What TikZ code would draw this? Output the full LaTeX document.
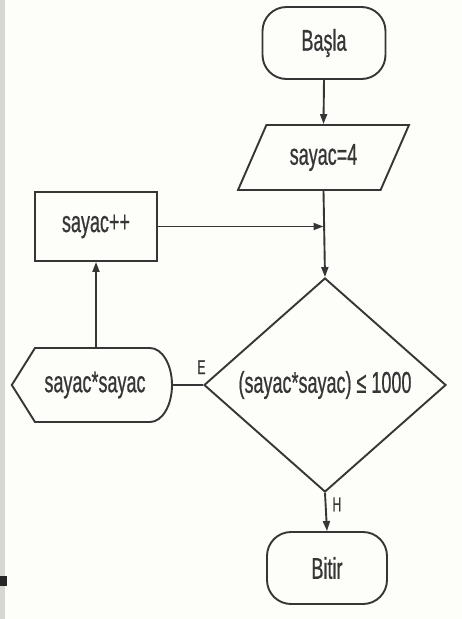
\documentclass[tikz,border=0pt]{standalone}
\usepackage{fontspec}
\setmainfont[FakeStretch=0.6,FakeBold=0.6]{Liberation Sans}
\usetikzlibrary{shapes.geometric,arrows.meta}

\definecolor{ink}{HTML}{363636}
\definecolor{paper}{HTML}{FDFDFA}
\definecolor{edge}{HTML}{D6D6D2}

\tikzset{
  x=1pt, y=1pt,
  every node/.style={font=\fontsize{30}{33}\selectfont, text=ink, inner sep=0pt},
  outline/.style={draw=ink, line width=1.9pt},
  terminal/.style={outline, rectangle, rounded corners=24pt, minimum width=123pt, minimum height=72pt},
  iobox/.style={outline, trapezium, trapezium left angle=58, trapezium right angle=122,
                trapezium stretches=true, minimum width=171pt, minimum height=65pt},
  process/.style={outline, rectangle, minimum width=122pt, minimum height=69pt},
  decision/.style={outline, diamond, minimum width=242pt, minimum height=214pt},
  displaybox/.style={rectangle, minimum width=160pt, minimum height=74pt},
  flow/.style={draw=ink, line width=1.9pt, -{Triangle[length=10pt,width=7pt]}},
  link/.style={draw=ink, line width=1.9pt},
  tag/.style={font=\fontsize{20}{22}\selectfont}
}

\begin{document}
\begin{tikzpicture}
  % page and scanned left margin
  \fill[paper] (0,0) rectangle (462,-619);
  \useasboundingbox (0,0) rectangle (462,-619);
  \fill[edge] (0,0) rectangle (5,-619);
  \fill[black!85] (0,-576) rectangle (7,-586);

  % flowchart nodes
  \node[terminal] (start) at (324,-43) {Başla};
  \node[iobox] (init) at (323.5,-157.5) {sayac=4};
  \node[process] (inc) at (96,-226.5) {sayac++};
  \node[decision] (test) at (325,-385) {(sayac*sayac) ≤ 1000};
  \node[displaybox] (show) at (92,-385) {\hspace*{6pt}sayac*sayac};
  \node[terminal, minimum width=120pt] (stop) at (327,-568) {Bitir};

  % display symbol: pointed left end, rounded right end
  \draw[outline] (show.west) -- (35,-348) -- (150,-348)
        arc[start angle=90, end angle=-90, x radius=22, y radius=37]
        -- (35,-422) -- cycle;
  \coordinate (showright) at (172,-385);

  % joint where the loop re-enters the main line
  \coordinate (join) at (init.south |- inc.east);

  % connectors
  \path[flow] (start.south) -- (init.north);
  \path[flow] (init.south) -- (test.north);
  \path[flow] (inc.east) -- (join);
  \path[link] (showright) -- node[tag, above=10pt, pos=0.95] {E} (test.west);
  \path[flow] (show.north -| inc.south) -- (inc.south);
  \path[flow] (test.south) -- node[tag, right=6pt, pos=0.3] {H} (stop.north);
\end{tikzpicture}
\end{document}
